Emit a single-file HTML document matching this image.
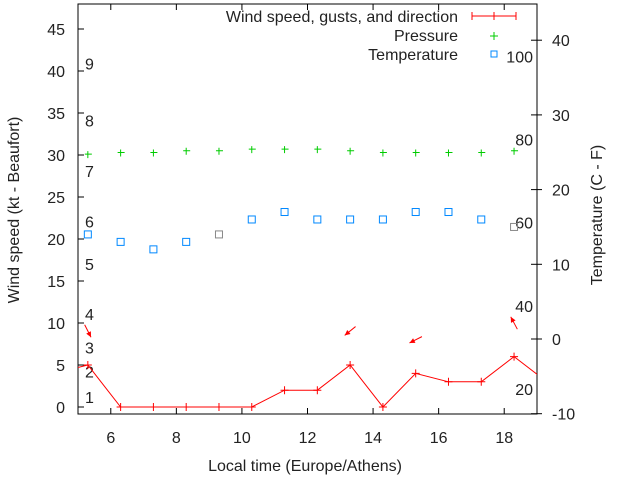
<!DOCTYPE html>
<html><head><meta charset="utf-8"><style>
body{margin:0;background:#fff}
svg{display:block;font-family:"Liberation Sans",sans-serif;font-size:16px;fill:#222}
</style></head><body>
<svg id="c" width="640" height="480">
<rect x="78" y="4" width="459" height="410" fill="none" stroke="#000" stroke-width="1"/>
<g id="axes"></g><g id="marks"></g>
<text x="305" y="471" text-anchor="middle">Local time (Europe/Athens)</text>
<text transform="translate(19,210) rotate(-90)" text-anchor="middle">Wind speed (kt - Beaufort)</text>
<text transform="translate(602,215) rotate(-90)" text-anchor="middle">Temperature (C - F)</text>
<g>
<text x="458" y="22" text-anchor="end">Wind speed, gusts, and direction</text>
<line x1="472" y1="16" x2="516" y2="16" stroke="red"/><line x1="472" y1="12" x2="472" y2="20" stroke="red"/><line x1="516" y1="12" x2="516" y2="20" stroke="red"/><line x1="494" y1="12" x2="494" y2="20" stroke="red"/>
<text x="458" y="41" text-anchor="end">Pressure</text>
<path d="M490 36h8M494 32v8" stroke="#0c0"/>
<text x="458" y="60" text-anchor="end">Temperature</text>
<rect x="491" y="51" width="6" height="6" fill="none" stroke="#08f"/>
</g>
</svg>
<script>
const hours=[5.3,6.3,7.3,8.3,9.3,10.3,11.3,12.3,13.3,14.3,15.3,16.3,17.3,18.3];
const wind=[5,0,0,0,0,0,2,2,5,0,4,3,3,6];
const windPrev=4, windNext=3;
const pressure=[30.1,30.3,30.3,30.5,30.5,30.7,30.7,30.7,30.5,30.3,30.3,30.3,30.3,30.5];
const temp=[14,13,12,13,14,16,17,16,16,16,17,17,16,15];
const tempGrey=[false,false,false,false,true,false,false,false,false,false,false,false,false,true];
const arrowHours=[5.3,13.3,15.3,18.3];
const arrowLevel=[9.05,9.05,8.0,10.0];
const arrowDir=[-63,219,207,118];
const xTicks=[6,8,10,12,14,16,18];
const yTicks=[0,5,10,15,20,25,30,35,40,45];
const y2Ticks=[-10,0,10,20,30,40];
const beaufort=["1","2","3","4","5","6","7","8","9"];
const beaufortKt=[1.2,4.2,7.1,11.1,17.0,22.1,28.1,34.1,40.9];
const fLabels=["20","40","60","80","100"];
const fC=[-6.7,4.4,15.6,26.7,37.8];
const NS="http://www.w3.org/2000/svg";
const X=h=>78+(h-5)*459/14;
const Y=v=>407-v*8.4;
const Y2=v=>339-v*7.47;
const ax=document.getElementById('axes'),mk=document.getElementById('marks');
function el(t,a,p){const e=document.createElementNS(NS,t);for(const k in a)e.setAttribute(k,a[k]);p.appendChild(e);return e;}
xTicks.forEach(t=>{const x=X(t);
const l=el('path',{d:`M${x} 414v-6M${x} 4v6`,stroke:'#000'},ax);


const tx=el('text',{x:x,y:443,'text-anchor':'middle'},ax);tx.textContent=t;

});
yTicks.forEach(t=>{const y=Y(t);
const l=el('path',{d:`M78 ${y}h6`,stroke:'#000'},ax);


const tx=el('text',{x:65,y:y+6,'text-anchor':'end'},ax);tx.textContent=t;

});
y2Ticks.forEach(t=>{const y=Y2(t);
const l=el('path',{d:`M531 ${y}h11`,stroke:'#000'},ax);


const tx=el('text',{x:552,y:y+6},ax);tx.textContent=t;

});
beaufort.forEach((b,i)=>{const tx=el('text',{x:85,y:Y(beaufortKt[i])+6},ax);tx.textContent=b;

});
fLabels.forEach((f,i)=>{const tx=el('text',{x:533,y:Y2(fC[i])+6,'text-anchor':'end'},ax);tx.textContent=f;

});
let pts=[[X(4.3),Y(windPrev)]].concat(hours.map((h,i)=>[X(h),Y(wind[i])])).concat([[X(19.3),Y(windNext)]]);
const cp=el('clipPath',{id:'cl'},mk);el('rect',{x:78,y:4,width:459,height:410},cp);
const pl=el('polyline',{points:pts.map(p=>p.join(',')).join(' '),fill:'none',stroke:'red','clip-path':'url(#cl)'},mk);


hours.forEach((h,i)=>{const x=X(h),y=Y(wind[i]);
const m=el('path',{d:`M${x-4} ${y}h8M${x} ${y-4}v8`,stroke:'red'},mk);


const p=el('path',{d:`M${x-3} ${Y(pressure[i])}h7M${x} ${Y(pressure[i])-3}v7`,stroke:'#0c0'},mk);


const s=el('rect',{x:x-3.5,y:Y2(temp[i])-3.5,width:7,height:7,fill:'none',stroke:tempGrey[i]?'#888':'#08f'},mk);

});
arrowHours.forEach((h,i)=>{const cx=X(h),cy=Y(arrowLevel[i]),a=arrowDir[i]*Math.PI/180;
const dx=Math.cos(a)*7,dy=-Math.sin(a)*7;
const x1=cx-dx,y1=cy-dy,x2=cx+dx,y2=cy+dy;
const ang=Math.atan2(y2-y1,x2-x1);
const hx1=x2-6*Math.cos(ang-0.45),hy1=y2-6*Math.sin(ang-0.45),hx2=x2-6*Math.cos(ang+0.45),hy2=y2-6*Math.sin(ang+0.45);
const g=el('g',{},mk);


el('line',{x1:x1,y1:y1,x2:x2,y2:y2,stroke:'red'},g);
el('polygon',{points:`${x2},${y2} ${hx1},${hy1} ${hx2},${hy2}`,fill:'red'},g);});
</script>
</body></html>
